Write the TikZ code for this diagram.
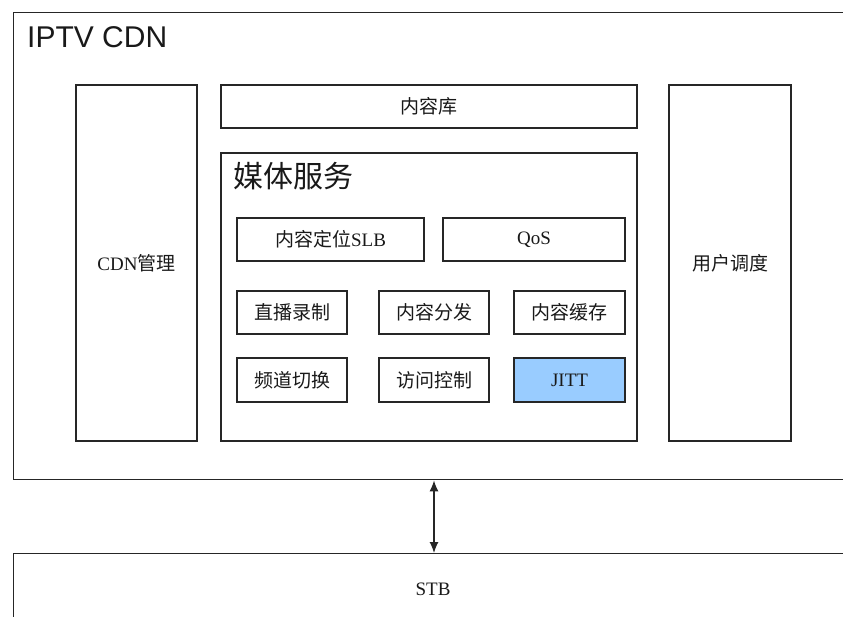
\documentclass[tikz,border=0pt]{standalone}
\usepackage{fontspec}
\setmainfont{Liberation Serif}
\newfontfamily\titlefont{Liberation Sans}
\newfontfamily\cjk{Noto Sans CJK SC}
\usetikzlibrary{arrows.meta}
\definecolor{edge}{HTML}{262626}
\definecolor{jittblue}{HTML}{99CCFF}
\begin{document}
\begin{tikzpicture}[x=1pt,y=-1pt,
  box/.style={draw=edge,line width=1.4pt,rectangle,inner sep=0pt,
    font=\fontsize{19}{22}\selectfont,text=black!90},
  title/.style={inner sep=0pt,text=black!90},
  link/.style={draw=edge,line width=1.2pt,y=1pt,
    {Latex[length=11pt,width=9pt]}-{Latex[length=11pt,width=9pt]}}]
\useasboundingbox (0,0) rectangle (843,617);
\clip (0,0) rectangle (843,617);
% outer frames
\node[box,minimum width=860pt,minimum height=467pt,anchor=north west] (iptv) at (13,12) {};
\node[box,minimum width=860pt,minimum height=72pt,anchor=north west] (stb) at (13,553) {};
\node[title,font=\fontsize{19}{22}\selectfont] (stbtext) at (433,589) {STB};
\node[title,anchor=base west,font=\titlefont\fontsize{30}{34}\selectfont] (iptvtitle) at (27,48) {IPTV CDN};
% side columns and content store
\node[box,minimum width=121pt,minimum height=356pt] (cdnm) at (136.5,263) {CDN{\cjk 管理}};
\node[box,minimum width=122pt,minimum height=356pt] (user) at (730,263) {\cjk 用户调度};
\node[box,minimum width=416pt,minimum height=43pt] (ku) at (429,106.5) {\cjk 内容库};
% media service group
\node[box,minimum width=416pt,minimum height=288pt] (media) at (429,297) {};
\node[title,anchor=north west,font=\cjk\fontsize{30}{34}\selectfont] (mediatitle) at (233,162) {媒体服务};
\node[box,minimum width=187pt,minimum height=43pt] (slb) at (330.5,239.5) {{\cjk 内容定位}SLB};
\node[box,minimum width=182pt,minimum height=43pt] (qos) at (534,239.5) {QoS};
\node[box,minimum width=110pt,minimum height=43pt] (zb) at (292,312.5) {\cjk 直播录制};
\node[box,minimum width=110pt,minimum height=43pt] (ff) at (434,312.5) {\cjk 内容分发};
\node[box,minimum width=111pt,minimum height=43pt] (hc) at (569.5,312.5) {\cjk 内容缓存};
\node[box,minimum width=110pt,minimum height=44pt] (pd) at (292,380) {\cjk 频道切换};
\node[box,minimum width=110pt,minimum height=44pt] (fw) at (434,380) {\cjk 访问控制};
\node[box,minimum width=111pt,minimum height=44pt,fill=jittblue] (jitt) at (569.5,380) {JITT};
% link between the CDN and the set-top box
\draw[link] (fw |- iptv.south) -- (fw |- stb.north);
\end{tikzpicture}
\end{document}
